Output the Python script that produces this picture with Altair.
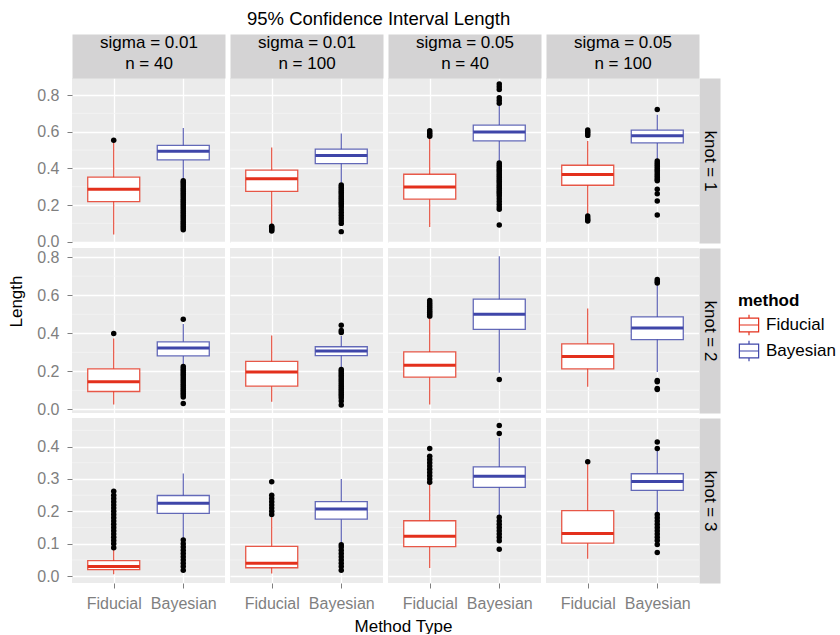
import altair as alt
import pandas as pd

FONT = "Liberation Sans"
RED = "#E3301C"
BLUE = "#3F46A9"
PANEL_BG = "#EBEBEB"
STRIP_BG = "#D4D3D4"
MINOR_GRID = "#F4F4F4"

METHODS = ["Fiducial", "Bayesian"]
KNOT_LABELS = ["knot = 1", "knot = 2", "knot = 3"]
COL_LABELS = [["sigma = 0.01", "n = 40"], ["sigma = 0.01", "n = 100"],
              ["sigma = 0.05", "n = 40"], ["sigma = 0.05", "n = 100"]]

# order in each list: c1 Fid, c1 Bay, c2 Fid, c2 Bay, c3 Fid, c3 Bay, c4 Fid, c4 Bay
LO_K1 = [0.040, 0.337, 0.095, 0.322, 0.080, 0.432, 0.150, 0.448]
Q1_K1 = [0.219, 0.446, 0.275, 0.426, 0.232, 0.550, 0.308, 0.539]
MED_K1 = [0.286, 0.494, 0.343, 0.470, 0.299, 0.598, 0.366, 0.578]
Q3_K1 = [0.352, 0.525, 0.390, 0.505, 0.368, 0.636, 0.417, 0.609]
HI_K1 = [0.541, 0.620, 0.514, 0.590, 0.568, 0.742, 0.550, 0.692]

LO_K2 = [0.026, 0.236, 0.040, 0.218, 0.026, 0.192, 0.119, 0.197]
Q1_K2 = [0.094, 0.281, 0.122, 0.283, 0.169, 0.420, 0.213, 0.367]
MED_K2 = [0.145, 0.322, 0.196, 0.307, 0.232, 0.500, 0.278, 0.428]
Q3_K2 = [0.213, 0.355, 0.252, 0.329, 0.302, 0.579, 0.344, 0.486]
HI_K2 = [0.372, 0.449, 0.388, 0.385, 0.484, 0.804, 0.530, 0.656]

LO_K3 = [0.006, 0.114, 0.008, 0.100, 0.025, 0.186, 0.054, 0.193]
Q1_K3 = [0.020, 0.194, 0.026, 0.176, 0.091, 0.274, 0.102, 0.265]
MED_K3 = [0.030, 0.225, 0.040, 0.207, 0.123, 0.308, 0.132, 0.292]
Q3_K3 = [0.048, 0.249, 0.092, 0.230, 0.171, 0.337, 0.202, 0.316]
HI_K3 = [0.083, 0.317, 0.182, 0.300, 0.285, 0.427, 0.345, 0.386]

OUT_K1 = [
    [0.554],
    [0.065, 0.075, 0.085, 0.095, 0.105, 0.115, 0.125, 0.135, 0.145, 0.155, 0.165, 0.175,
     0.185, 0.195, 0.205, 0.215, 0.225, 0.235, 0.245, 0.255, 0.265, 0.275, 0.285, 0.295,
     0.305, 0.315, 0.325, 0.332],
    [0.058, 0.064, 0.071, 0.078, 0.085],
    [0.055, 0.100, 0.115, 0.130, 0.145, 0.160, 0.175, 0.190, 0.200, 0.210, 0.220, 0.230,
     0.240, 0.250, 0.260, 0.270, 0.280, 0.290, 0.300, 0.310],
    [0.575, 0.585, 0.595, 0.605],
    [0.091, 0.177, 0.190, 0.205, 0.220, 0.235, 0.250, 0.260, 0.270, 0.280, 0.290, 0.300,
     0.310, 0.320, 0.330, 0.340, 0.350, 0.360, 0.370, 0.380, 0.390, 0.400, 0.410, 0.420,
     0.430, 0.755, 0.770, 0.785, 0.830, 0.845, 0.860],
    [0.113, 0.120, 0.130, 0.140, 0.580, 0.590, 0.600, 0.610],
    [0.146, 0.222, 0.262, 0.286, 0.332, 0.340, 0.350, 0.360, 0.370, 0.380, 0.390, 0.400,
     0.410, 0.420, 0.430, 0.440, 0.721],
]
OUT_K2 = [
    [0.399],
    [0.031, 0.065, 0.075, 0.085, 0.095, 0.105, 0.115, 0.125, 0.135, 0.145, 0.155, 0.165,
     0.175, 0.185, 0.195, 0.205, 0.215, 0.225, 0.474],
    [],
    [0.023, 0.044, 0.060, 0.070, 0.080, 0.090, 0.100, 0.110, 0.120, 0.130, 0.140, 0.150,
     0.160, 0.170, 0.180, 0.190, 0.200, 0.210, 0.404, 0.414, 0.442],
    [0.490, 0.500, 0.510, 0.520, 0.530, 0.540, 0.550, 0.560, 0.572],
    [0.157],
    [],
    [0.105, 0.110, 0.145, 0.152, 0.664, 0.672, 0.682],
]
OUT_K3 = [
    [0.088, 0.100, 0.110, 0.120, 0.130, 0.140, 0.150, 0.160, 0.170, 0.180, 0.190, 0.200,
     0.210, 0.220, 0.230, 0.240, 0.250, 0.262],
    [0.018, 0.030, 0.040, 0.050, 0.060, 0.070, 0.080, 0.090, 0.100, 0.112],
    [0.190, 0.200, 0.210, 0.220, 0.230, 0.240, 0.250, 0.291],
    [0.018, 0.030, 0.040, 0.050, 0.060, 0.070, 0.080, 0.090, 0.097],
    [0.290, 0.300, 0.310, 0.320, 0.330, 0.340, 0.350, 0.360, 0.370, 0.394],
    [0.083, 0.109, 0.120, 0.130, 0.140, 0.150, 0.160, 0.170, 0.182, 0.440, 0.465],
    [0.353],
    [0.073, 0.098, 0.110, 0.120, 0.130, 0.140, 0.150, 0.160, 0.170, 0.180, 0.190,
     0.394, 0.414],
]

Y_DOMAINS = [[-0.007, 0.893], [-0.019, 0.848], [-0.021, 0.488]]
MAJOR_TICKS = [[0.0, 0.2, 0.4, 0.6, 0.8], [0.0, 0.2, 0.4, 0.6, 0.8], [0.0, 0.1, 0.2, 0.3, 0.4]]
MINOR_TICKS = [[0.1, 0.3, 0.5, 0.7], [0.1, 0.3, 0.5, 0.7], [0.05, 0.15, 0.25, 0.35, 0.45]]

STATS = [
    (LO_K1, Q1_K1, MED_K1, Q3_K1, HI_K1, OUT_K1),
    (LO_K2, Q1_K2, MED_K2, Q3_K2, HI_K2, OUT_K2),
    (LO_K3, Q1_K3, MED_K3, Q3_K3, HI_K3, OUT_K3),
]

PW, PH = 153, 165
BOXW = 52
STRIP_H = 44
STRIP_W = 21

ICON = "M-0.94,-0.68H0.94V0.68H-0.94Z M-0.94,0H0.94 M0,-0.68V-1 M0,0.68V1"
LEGEND = alt.Legend(
    title="method", orient="none", legendX=666, legendY=215,
    symbolType=ICON, symbolSize=420, symbolStrokeWidth=1.2, symbolFillColor="white",
    titleFont=FONT, titleFontSize=17, titleFontWeight="bold", titleColor="black",
    labelFont=FONT, labelFontSize=17, labelColor="black", labelOffset=6,
    rowPadding=0, titlePadding=4, padding=0,
)
COLOR_SCALE = alt.Scale(domain=METHODS, range=[RED, BLUE])


def panel(k, c):
    lo, q1, med, q3, hi, outs = STATS[k]
    i0 = 2 * c
    stats = pd.DataFrame({
        "method": METHODS,
        "lo": lo[i0:i0 + 2], "q1": q1[i0:i0 + 2], "med": med[i0:i0 + 2],
        "q3": q3[i0:i0 + 2], "hi": hi[i0:i0 + 2],
    })
    orows = []
    for j, m in enumerate(METHODS):
        for v in outs[i0 + j]:
            orows.append({"method": m, "value": v})
    odf = pd.DataFrame(orows, columns=["method", "value"])

    xscale = alt.Scale(type="point", domain=METHODS, padding=0.6)
    yscale = alt.Scale(domain=Y_DOMAINS[k], nice=False, zero=False)

    # main bottom axis
    if k == 2:
        xaxis = alt.Axis(orient="bottom", labels=True, ticks=True, tickSize=5, labelPadding=7,
                         labelAngle=0, grid=True, domain=False,
                         title=("Method Type" if c == 1 else None),
                         titleX=173, titleAlign="center", titlePadding=7)
    else:
        xaxis = alt.Axis(orient="bottom", labels=False, ticks=False, grid=True, domain=False,
                         title=None)
    # main left axis
    if c == 0:
        yaxis = alt.Axis(orient="left", values=MAJOR_TICKS[k], format=".1f", tickSize=5,
                         labelPadding=8, grid=True, domain=False,
                         title=("Length" if k == 1 else None), titlePadding=11,
                         titleY=53, titleAlign="center")
    else:
        yaxis = alt.Axis(orient="left", values=MAJOR_TICKS[k], labels=False, ticks=False,
                         grid=True, domain=False, title=None)
    # strip on top (column label) for the first row
    if k == 0:
        top_axis = alt.Axis(orient="top", offset=STRIP_H / 2, domain=True,
                            domainWidth=STRIP_H, domainColor=STRIP_BG, labels=False,
                            ticks=False, grid=False, title=COL_LABELS[c], titleX=PW / 2,
                            titleY=-22, titleAlign="center", titleBaseline="top",
                            titleLineHeight=21.5, titleFontSize=17, titleColor="black",
                            titleAngle=0, titlePadding=0)
    else:
        top_axis = None
    # strip on the right (row label) for the last column
    if c == 3:
        right_axis = alt.Axis(orient="right", offset=STRIP_W / 2, domain=True,
                              domainWidth=STRIP_W, domainColor=STRIP_BG, labels=False,
                              ticks=False, grid=False, title=KNOT_LABELS[k], titleX=0,
                              titleY=PH / 2, titleAlign="center", titleBaseline="middle",
                              titleFontSize=17, titleColor="black", titleAngle=90,
                              titlePadding=0)
    else:
        right_axis = None

    minor = alt.Chart(pd.DataFrame({"v": MINOR_TICKS[k]})).mark_rule(
        color=MINOR_GRID, strokeWidth=0.8
    ).encode(y=alt.Y("v:Q", scale=yscale, axis=yaxis))
    base = alt.Chart(stats)
    stroke = alt.Stroke("method:N", scale=COLOR_SCALE, legend=LEGEND)
    whisk = base.mark_rule(strokeWidth=1.1, strokeOpacity=0.9).encode(
        x=alt.X("method:N", scale=xscale, axis=None),
        y=alt.Y("lo:Q", scale=yscale, axis=right_axis), y2="hi:Q",
        stroke=stroke,
    )
    box = base.mark_bar(width=BOXW, fill="white", strokeWidth=1.3, strokeOpacity=0.8).encode(
        x=alt.X("method:N", scale=xscale, axis=None),
        y=alt.Y("q1:Q", scale=yscale, axis=None), y2="q3:Q",
        stroke=stroke,
    )
    median = base.mark_rule(strokeWidth=3, xOffset=-BOXW / 2, x2Offset=BOXW / 2).encode(
        x=alt.X("method:N", scale=xscale, axis=top_axis), x2=alt.X2("method"),
        y=alt.Y("med:Q", scale=yscale, axis=None),
        stroke=stroke,
    )
    pts = alt.Chart(odf).mark_circle(size=30, color="black", opacity=1).encode(
        x=alt.X("method:N", scale=xscale, axis=xaxis),
        y=alt.Y("value:Q", scale=yscale, axis=None),
    )
    return alt.layer(minor, whisk, box, median, pts).resolve_axis(
        x="independent", y="independent"
    ).properties(
        width=PW, height=PH, view=alt.ViewBackground(fill=PANEL_BG, stroke=None)
    )


cells = [panel(k, c) for k in range(3) for c in range(4)]

chart = alt.concat(*cells, columns=4, spacing=5, bounds="flush").properties(
    title=alt.TitleParams(
        "95% Confidence Interval Length", font=FONT, fontSize=18.5, fontWeight="normal",
        color="black", anchor="start", frame="group", dx=175, offset=-10, baseline="alphabetic",
    ),
    padding={"left": 7, "top": 9, "right": 0, "bottom": 0},
).configure_view(stroke=None).configure_axis(
    labelFont=FONT, titleFont=FONT, labelColor="#7F7F7F", tickColor="#7F7F7F",
    labelFontSize=16, titleFontSize=17, titleFontWeight="normal", titleColor="black",
    gridColor="white", gridWidth=1.3,
)

chart.save("out.html", embed_options={"renderer": "svg", "actions": False})
